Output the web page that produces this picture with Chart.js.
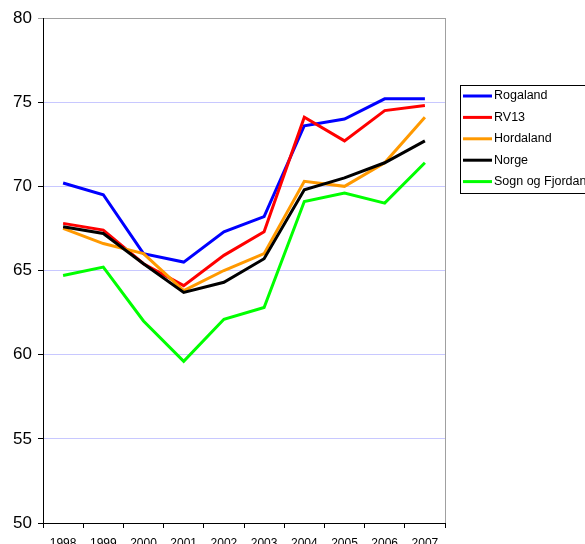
<!DOCTYPE html>
<html>
<head>
<meta charset="utf-8">
<script src="https://cdn.jsdelivr.net/npm/chart.js@4/dist/chart.umd.min.js"></script>
<style>
  html, body { margin: 0; padding: 0; background: #fff; }
  #wrap { width: 585px; height: 544px; position: relative; }
</style>
</head>
<body>
<div id="wrap"><canvas id="chart" width="585" height="544"></canvas></div>
<script>
const years = ['1998', '1999', '2000', '2001', '2002', '2003', '2004', '2005', '2006', '2007'];

const rogaland = [70.2, 69.5, 66.0, 65.5, 67.3, 68.2, 73.6, 74.0, 75.2, 75.2];
const rv13     = [67.8, 67.4, 65.4, 64.1, 65.9, 67.3, 74.1, 72.7, 74.5, 74.8];
const hordaland = [67.5, 66.6, 66.0, 63.8, 65.0, 66.0, 70.3, 70.0, 71.4, 74.1];
const norge    = [67.6, 67.2, 65.4, 63.7, 64.3, 65.7, 69.8, 70.5, 71.4, 72.7];
const sogn     = [64.7, 65.2, 62.0, 59.6, 62.1, 62.8, 69.1, 69.6, 69.0, 71.4];

const yMin = 50, yMax = 80, yStep = 5;

const font = "'Liberation Sans', Arial, sans-serif";

// boxed legend on the right, plus grey frame lines on top/right of the plot
const frameAndLegend = {
  id: 'frameAndLegend',
  beforeDatasetsDraw(chart) {
    const ctx = chart.ctx, a = chart.chartArea;
    ctx.save();
    ctx.strokeStyle = '#a0a0a0';
    ctx.lineWidth = 1;
    ctx.beginPath();
    ctx.moveTo(Math.round(a.right) + 0.5, a.top);
    ctx.lineTo(Math.round(a.right) + 0.5, a.bottom);
    ctx.stroke();
    ctx.restore();
  },
  afterDraw(chart) {
    const ctx = chart.ctx;
    ctx.save();
    ctx.strokeStyle = '#000';
    ctx.lineWidth = 1;
    ctx.strokeRect(460.5, 85.5, 140, 108);
    ctx.font = '12.5px ' + font;
    ctx.textBaseline = 'middle';
    ctx.fillStyle = '#000';
    chart.data.datasets.forEach((ds, i) => {
      const y = 96 + i * 21.4;
      ctx.strokeStyle = ds.borderColor;
      ctx.lineWidth = 3;
      ctx.beginPath();
      ctx.moveTo(463, y);
      ctx.lineTo(492, y);
      ctx.stroke();
      ctx.fillText(ds.label, 494, y);
    });
    ctx.restore();
  }
};

function series(label, data, color, order) {
  return {
    label: label,
    data: data,
    borderColor: color,
    backgroundColor: color,
    borderWidth: 3,
    pointRadius: 0,
    tension: 0,
    fill: false,
    order: order
  };
}

new Chart(document.getElementById('chart'), {
  type: 'line',
  data: {
    labels: years,
    datasets: [
      series('Rogaland', rogaland, '#0000ff', 5),
      series('RV13', rv13, '#ff0000', 4),
      series('Hordaland', hordaland, '#ff9900', 3),
      series('Norge', norge, '#000000', 2),
      series('Sogn og Fjordane', sogn, '#00ff00', 1)
    ]
  },
  options: {
    responsive: false,
    animation: false,
    layout: { padding: { top: 18, right: 140, left: 0, bottom: 0 } },
    plugins: { legend: { display: false }, tooltip: { enabled: false } },
    scales: {
      x: {
        offset: true,
        grid: {
          offset: true,
          drawOnChartArea: false,
          drawTicks: true,
          tickLength: 5,
          tickColor: '#000'
        },
        border: { color: '#000', width: 1 },
        ticks: {
          color: '#000',
          font: { family: font, size: 12 },
          padding: 8,
          maxRotation: 0,
          autoSkip: false
        },
        afterFit(scale) { scale.height = 21; }
      },
      y: {
        min: yMin,
        max: yMax,
        grid: {
          color: ctx => ctx.tick && ctx.tick.value === yMax ? '#a0a0a0' : 'rgb(200,200,255)',
          tickColor: ctx => ctx.tick && ctx.tick.value === yMax ? '#a0a0a0' : '#000',
          tickLength: 5,
          lineWidth: 1
        },
        border: { color: '#000', width: 1 },
        ticks: {
          stepSize: yStep,
          color: '#000',
          font: { family: font, size: 17 },
          padding: 6
        },
        afterFit(scale) { scale.width = 43; }
      }
    }
  },
  plugins: [frameAndLegend]
});
</script>
</body>
</html>
